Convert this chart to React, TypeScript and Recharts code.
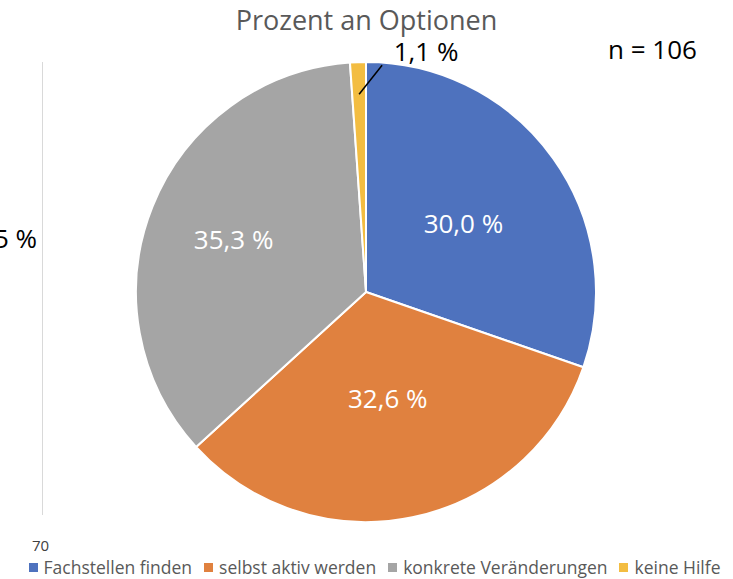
import React from 'react';
import { PieChart, Pie, Cell, Legend } from 'recharts';

const categories = ['Fachstellen finden', 'selbst aktiv werden', 'konkrete Veränderungen', 'keine Hilfe'];
const percents = [30.0, 32.6, 35.3, 1.1];
const colors = ['#4E72BE', '#E0813F', '#A5A5A5', '#F3BD42'];

const data = categories.map((name, i) => ({ name, value: percents[i] }));

const FONT = '"Open Sans", "Noto Sans", sans-serif';
const RAD = Math.PI / 180;
// label distance from centre, as share of the radius, per slice
const labelRadius = [0.52, 0.47, 0.62];

const fmt = (v: number) => `${v.toFixed(1).replace('.', ',')} %`;

const renderLabel = (props: any) => {
    const { cx, cy, midAngle, outerRadius, index, value } = props;
    if (index === 3) {
        // small slice: label outside with a leader line
        const sx = cx + outerRadius * 0.86 * Math.cos(-midAngle * RAD);
        const sy = cy + outerRadius * 0.86 * Math.sin(-midAngle * RAD);
        const ex = sx + 23;
        const ey = sy - 29;
        return (
            <g>
                <line x1={sx} y1={sy} x2={ex} y2={ey} stroke="#000" strokeWidth={1.5} />
                <text x={ex + 44} y={ey - 14} fill="#000" fontSize={26} fontFamily={FONT} textAnchor="middle" dominantBaseline="central">
                    {fmt(value)}
                </text>
            </g>
        );
    }
    const r = outerRadius * labelRadius[index];
    const x = cx + r * Math.cos(-midAngle * RAD);
    const y = cy + r * Math.sin(-midAngle * RAD);
    return (
        <text x={x} y={y} fill="#fff" fontSize={26} fontFamily={FONT} textAnchor="middle" dominantBaseline="central">
            {fmt(value)}
        </text>
    );
};

const LegendContent = () => (
    <div style={{ display: 'flex', justifyContent: 'center', gap: 12, paddingLeft: 16, fontFamily: FONT, fontSize: 17.5, color: '#595959', whiteSpace: 'nowrap' }}>
        {categories.map((c, i) => (
            <span key={c} style={{ display: 'flex', alignItems: 'center' }}>
                <span style={{ display: 'inline-block', width: 9, height: 9, background: colors[i], marginRight: 6 }} />
                {c}
            </span>
        ))}
    </div>
);

export default function App() {
    return (
        <div style={{ position: 'absolute', left: 0, top: 0, width: 733, height: 579, background: '#fff', fontFamily: FONT, overflow: 'hidden' }}>
            <div style={{ position: 'absolute', left: 0, width: 733, top: 6, lineHeight: '28px', textAlign: 'center', fontSize: 27, color: '#595959' }}>
                Prozent an Optionen
            </div>
            <div style={{ position: 'absolute', left: 608, top: 31, fontSize: 26, color: '#000' }}>n = 106</div>
            <div style={{ position: 'absolute', left: -6, top: 220, fontSize: 26, color: '#000' }}>5 %</div>
            <div style={{ position: 'absolute', left: 42, top: 62, width: 1, height: 453, background: '#d9d9d9' }} />
            <div style={{ position: 'absolute', left: 32, top: 535, fontSize: 15, color: '#404040' }}>70</div>
            <div style={{ position: 'absolute', left: 0, top: 0 }}>
                <PieChart width={733} height={579} margin={{ top: 0, right: 0, bottom: 0, left: 0 }}>
                    <Pie
                        data={data}
                        dataKey="value"
                        nameKey="name"
                        cx={366}
                        cy={292}
                        outerRadius={230}
                        startAngle={90}
                        endAngle={-270}
                        stroke="#fff"
                        strokeWidth={2}
                        label={renderLabel}
                        labelLine={false}
                        isAnimationActive={false}
                    >
                        {data.map((d, i) => (
                            <Cell key={d.name} fill={colors[i]} />
                        ))}
                    </Pie>
                    <Legend
                        verticalAlign="bottom"
                        align="center"
                        content={LegendContent}
                        wrapperStyle={{ bottom: 0, left: 0, width: 733 }}
                    />
                </PieChart>
            </div>
        </div>
    );
}
